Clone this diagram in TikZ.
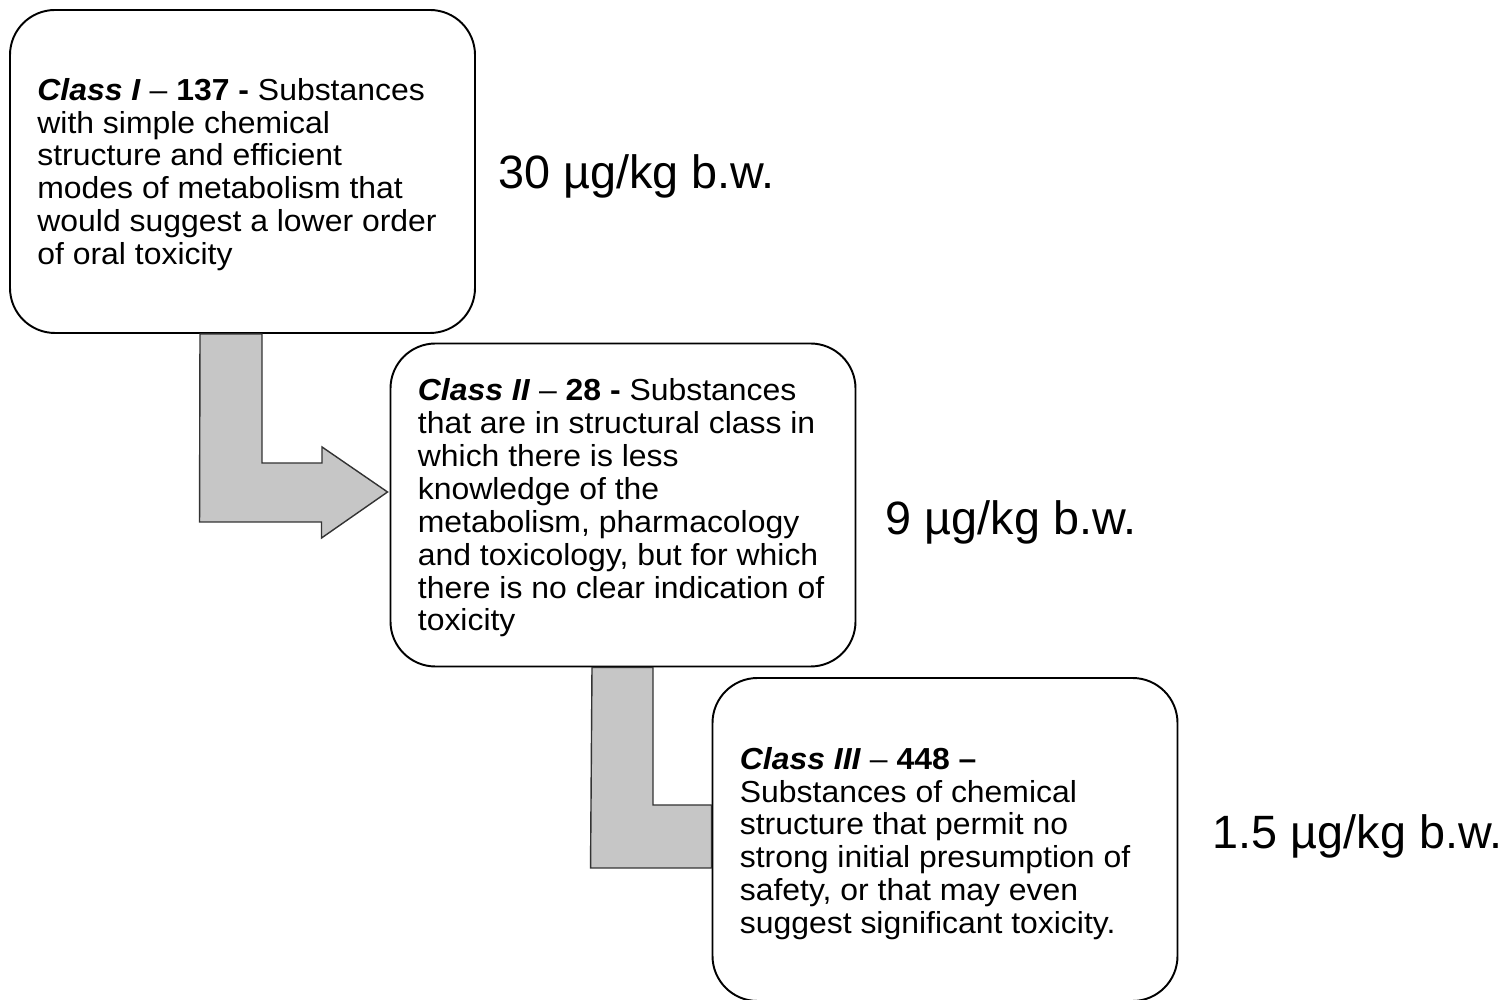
\documentclass[tikz,border=0pt]{standalone}
\usepackage{fontspec}
\setmainfont{Liberation Sans}
\newfontfamily\boxfont[FakeStretch=1.05,Ligatures=TeX]{Liberation Sans}
\usetikzlibrary{calc}
\tikzstyle{classbox} = [rectangle, rounded corners=0.9cm, minimum width=9.3cm, minimum height=6.46cm, draw=black, line width=1.1pt, fill=white]
\tikzstyle{classtext} = [anchor=west, align=left, inner sep=0pt, font=\boxfont\fontsize{17.3}{18.7}\selectfont]
\tikzstyle{doselabel} = [anchor=west, inner sep=0pt, font=\fontsize{26.6}{30}\selectfont]
\tikzstyle{bentarrow} = [draw=black!80, line width=0.8pt, fill=gray!45, line join=miter]

\begin{document}
\begin{tikzpicture}
    \useasboundingbox (0,0) rectangle (30.1,20);

    % Nodes
    \node (c1) [classbox] at (4.85,16.57) {};
    \node (c2) [classbox] at ($(c1)+(7.61,-6.67)$) {};
    \node (c3) [classbox] at ($(c2)+(6.44,-6.69)$) {};

    \node (t1) [classtext] at ($(c1.west)+(0.56,-0.06)$) {\textbf{\textit{Class I}} – \textbf{137 -} Substances\\ with simple chemical\\ structure and efficient\\ modes of metabolism that\\ would suggest a lower order\\ of oral toxicity};
    \node (t2) [classtext] at ($(c2.west)+(0.56,-0.06)$) {\textbf{\textit{Class II}} – \textbf{28 -} Substances\\ that are in structural class in\\ which there is less\\ knowledge of the\\ metabolism, pharmacology\\ and toxicology, but for which\\ there is no clear indication of\\ toxicity};
    \node (t3) [classtext] at ($(c3.west)+(0.56,-0.08)$) {\textbf{\textit{Class III}} – \textbf{448 –}\\ Substances of chemical\\ structure that permit no\\ strong initial presumption of\\ safety, or that may even\\ suggest significant toxicity.};

    \node (d1) [doselabel] at ($(c1.east)+(0.44,-0.09)$) {30 µg/kg b.w.};
    \node (d2) [doselabel] at ($(c2.east)+(0.58,-0.35)$) {9 µg/kg b.w.};
    \node (d3) [doselabel] at ($(c3.east)+(0.68,0.07)$) {1.5 µg/kg b.w.};

    % Arrows
    \draw [bentarrow] ($(c1.south)+(-0.85,0)$) -- ++(1.24,0) -- ++(0,-2.58) -- ++(1.2,0) -- ++(0,0.32)
        -- ($(c2.west)+(-0.04,0.26)$) -- ++(-1.32,-0.92) -- ++(0,0.32) -- ++(-2.44,0) -- cycle;
    \draw [bentarrow] ($(c2.south)+(-0.62,0)$) -- ++(1.22,0) |- ($(c3.west)+(0,0.69)$)
        -- ($(c3.west)+(0,-0.57)$) -- ++(-2.42,0) -- cycle;
\end{tikzpicture}
\end{document}
